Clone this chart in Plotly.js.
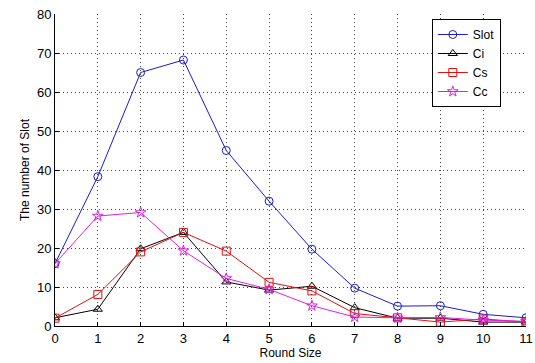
<!DOCTYPE html>
<html>
<head>
<meta charset="utf-8">
<script src="https://cdn.plot.ly/plotly-3.0.1.min.js"></script>
<style>html,body{margin:0;padding:0;background:#fff;}#chart{width:535px;height:363px;}</style>
</head>
<body>
<div id="chart"></div>
<script>
var roundSize = [0, 1, 2, 3, 4, 5, 6, 7, 8, 9, 10, 11];
var slot = [16, 38.3, 65, 68.2, 45, 32, 19.7, 9.7, 5.1, 5.2, 3, 2.1];
var ci   = [2.1, 4.3, 19.8, 24, 11.3, 9.2, 10.2, 4.7, 2, 2, 1, 1];
var cs   = [2, 8.1, 19, 24, 19.2, 11.2, 9, 3.2, 2.1, 1, 1.8, 1];
var cc   = [16, 28.2, 29.1, 19.3, 12.2, 9.4, 5.2, 2.3, 2.1, 2.2, 1.5, 1.2];

function tr(name, y, color, symbol, size) {
  return {
    x: roundSize, y: y, name: name, type: 'scatter', mode: 'lines+markers',
    line: {color: color, width: 1},
    marker: {symbol: symbol, size: size, color: color, line: {color: color, width: 1}}
  };
}

var data = [
  tr('Slot', slot, '#1a1ad0', 'circle-open', 8),
  tr('Ci', ci, '#000000', 'triangle-up-open', 8),
  tr('Cs', cs, '#e01010', 'square-open', 8),
  tr('Cc', cc, '#e020e0', 'star-open', 8)
];

var ff = 'Liberation Sans, Arial, sans-serif';

var layout = {
  width: 535, height: 363,
  margin: {l: 55, r: 9, t: 14, b: 37, pad: 0},
  paper_bgcolor: '#fff', plot_bgcolor: '#fff',
  font: {family: ff, size: 12, color: '#000'},
  showlegend: true,
  legend: {
    x: 0.8, y: 0.984, xanchor: 'left', yanchor: 'top',
    bgcolor: '#fff', bordercolor: '#000', borderwidth: 1,
    font: {family: ff, size: 12, color: '#000'},
    itemwidth: 30, tracegroupgap: 0
  },
  xaxis: {
    range: [0, 11], dtick: 1, tick0: 0,
    showgrid: true, gridcolor: '#444', griddash: '1px,3px', gridwidth: 1,
    zeroline: false, showline: true, linecolor: '#000', linewidth: 1,
    ticks: 'inside', ticklen: 4, tickcolor: '#000',
    tickfont: {family: ff, size: 13},
    title: {text: 'Round Size', font: {family: ff, size: 12}, standoff: 2}
  },
  yaxis: {
    range: [0, 80], dtick: 10, tick0: 0,
    showgrid: true, gridcolor: '#444', griddash: '1px,3px', gridwidth: 1,
    zeroline: false, showline: true, linecolor: '#000', linewidth: 1,
    ticks: 'inside', ticklen: 4, tickcolor: '#000',
    tickfont: {family: ff, size: 13},
    title: {text: 'The number of Slot', font: {family: ff, size: 12}, standoff: 4}
  }
};

Plotly.newPlot('chart', data, layout, {staticPlot: true, displayModeBar: false});
</script>
</body>
</html>
